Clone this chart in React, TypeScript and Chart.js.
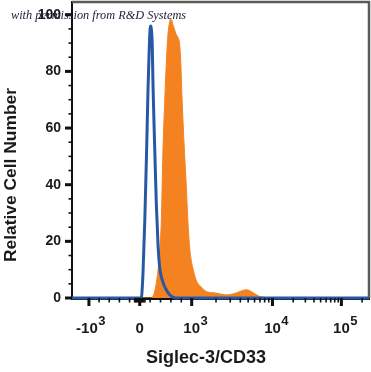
import { useEffect, useRef } from "react";
import { Chart, registerables } from "chart.js";

Chart.register(...registerables);

// Display channel (0-1000, biexponential display) and relative counts
const isotypeChannel = [0, 200, 228, 234, 239, 245, 251, 256, 260, 263, 265, 267, 270, 273, 279, 284, 290, 295, 301, 310, 318, 328, 339, 350, 1000];
const isotypeCount = [0, 0, 0, 0.4, 8.8, 27, 51, 74, 88, 95, 96, 95, 90, 74, 51, 33, 18, 11, 7.4, 4.5, 2.8, 1.2, 0.3, 0, 0];

const cd33Channel = [0, 265, 272, 284, 295, 301, 306, 312, 318, 323, 329, 332, 336, 340, 346, 351, 357, 362, 366, 370, 374, 379, 385, 390, 396, 402, 407, 418, 435, 452, 470, 486, 505, 519, 536, 553, 570, 586, 600, 608, 620, 631, 650, 670, 1000];
const cd33Count = [0, 0, 0.5, 5.3, 16, 28, 51, 69, 84, 93, 97.5, 98.5, 98, 96.5, 94.5, 93, 92, 90, 84, 72, 62, 51, 39, 27.5, 18, 13, 10.5, 6.3, 3.9, 2.3, 1.9, 1.7, 1.3, 1.1, 1.3, 1.8, 2.5, 2.9, 2.5, 2.0, 1.2, 0.6, 0.2, 0, 0];

const xMajorValues = [-1000, 0, 1000, 10000, 100000];
const xMajorBase = ["-10", "0", "10", "10", "10"];
const xMajorExp = ["3", "", "3", "4", "5"];
const xMinorValues = [
  -800, -600, -400, -200, -100, -80, -60, -40, -20, 20, 40, 60, 80, 100, 200, 400, 600, 800,
  2000, 3000, 4000, 5000, 6000, 7000, 8000, 9000,
  20000, 30000, 40000, 50000, 60000, 70000, 80000, 90000,
  200000, 300000,
];
const yLabelTicks = [0, 20, 40, 60, 80, 100];
const yMinorTicks = [5, 10, 15, 25, 30, 35, 45, 50, 55, 65, 70, 75, 85, 90, 95];

const xTitle = "Siglec-3/CD33";
const yTitle = "Relative Cell Number";
const note = "with permission from R&D Systems";

// biexponential display anchors (channel units)
const NEG_CH = 57, ZERO_CH = 228, E3_CH = 403, E4_CH = 675, E5_CH = 907;
function channelOf(v: number): number {
  if (v >= 10000) return E4_CH + (Math.log10(v) - 4) * (E5_CH - E4_CH);
  if (v >= 1000) return E3_CH + (Math.log10(v) - 3) * (E4_CH - E3_CH);
  if (v >= 0) return ZERO_CH + (v / 1000) * (E3_CH - ZERO_CH);
  return ZERO_CH + (v / 1000) * (ZERO_CH - NEG_CH);
}

const FONT = "'Liberation Sans', Arial, sans-serif";

const decorPlugin = {
  id: "decor",
  afterDraw(chart: any) {
    const ctx = chart.ctx as CanvasRenderingContext2D;
    const { left, right, top, bottom } = chart.chartArea;
    const xs = chart.scales.x;
    const ys = chart.scales.y;
    ctx.save();
    // top/right frame
    ctx.strokeStyle = "#5a5a5a";
    ctx.lineWidth = 2.5;
    ctx.beginPath();
    ctx.moveTo(left, top);
    ctx.lineTo(right, top);
    ctx.lineTo(right, bottom);
    ctx.stroke();

    ctx.fillStyle = "#111";
    // x ticks
    xMajorValues.forEach((v) => {
      const px = xs.getPixelForValue(channelOf(v));
      ctx.fillRect(px - 1.5, bottom, 3, 8);
    });
    xMinorValues.forEach((v) => {
      const ch = channelOf(v);
      if (ch > xs.max) return;
      const px = xs.getPixelForValue(ch);
      ctx.fillRect(px - 0.8, bottom, 1.6, 4.5);
    });
    // y ticks
    yLabelTicks.forEach((v) => {
      const py = ys.getPixelForValue(v);
      ctx.fillRect(left - 7, py - 1.5, 7, 3);
    });
    yMinorTicks.forEach((v) => {
      const py = ys.getPixelForValue(v);
      ctx.fillRect(left - 3.5, py - 0.8, 3.5, 1.6);
    });

    // x tick labels with superscripts
    ctx.fillStyle = "#1a1a1a";
    ctx.textBaseline = "alphabetic";
    xMajorValues.forEach((v, i) => {
      const px = xs.getPixelForValue(channelOf(v));
      ctx.font = `bold 15px ${FONT}`;
      const base = xMajorBase[i];
      const w = ctx.measureText(base).width;
      const bx = px - w / 2 - (base.startsWith("-") ? 2 : 0);
      ctx.textAlign = "left";
      ctx.fillText(base, bx, 333);
      if (xMajorExp[i]) {
        ctx.font = `bold 13px ${FONT}`;
        ctx.fillText(xMajorExp[i], bx + w + 0.5, 325);
      }
    });

    // axis titles
    ctx.textAlign = "center";
    ctx.textBaseline = "middle";
    ctx.font = `bold 18px ${FONT}`;
    ctx.fillText(xTitle, 206, 358);
    ctx.save();
    ctx.translate(11, 175);
    ctx.rotate(-Math.PI / 2);
    ctx.font = `bold 17.4px ${FONT}`;
    ctx.fillText(yTitle, 0, 0);
    ctx.restore();

    // permission note
    ctx.font = "italic 12.3px 'Liberation Serif', 'DejaVu Serif', serif";
    ctx.fillStyle = "#1c1c3a";
    ctx.textAlign = "left";
    ctx.textBaseline = "alphabetic";
    ctx.fillText(note, 11, 19);
    ctx.restore();
  },
};

export default function App() {
  const ref = useRef<HTMLCanvasElement | null>(null);
  useEffect(() => {
    document.body.style.margin = "0";
    const canvas = ref.current;
    if (!canvas) return;
    const chart = new Chart(canvas, {
      type: "line",
      data: {
        datasets: [
          {
            label: "Isotype control",
            data: isotypeChannel.map((x, i) => ({ x, y: isotypeCount[i] })),
            borderColor: "#2858a4",
            borderWidth: 3,
            backgroundColor: "transparent",
            fill: false,
            pointRadius: 0,
            tension: 0.35,
            cubicInterpolationMode: "monotone",
            clip: 4,
            order: 0,
          },
          {
            label: "Siglec-3/CD33",
            data: cd33Channel.map((x, i) => ({ x, y: cd33Count[i] })),
            borderColor: "#f58220",
            borderWidth: 1,
            backgroundColor: "#f58220",
            fill: "origin",
            pointRadius: 0,
            tension: 0.35,
            cubicInterpolationMode: "monotone",
            order: 1,
          },
        ],
      },
      options: {
        animation: false,
        responsive: false,
        devicePixelRatio: 1,
        layout: { padding: { top: 2, right: 2, left: 0, bottom: 0 } },
        plugins: { legend: { display: false }, tooltip: { enabled: false } },
        scales: {
          x: {
            type: "linear",
            min: 0,
            max: 1000,
            grid: { display: false, drawTicks: false },
            border: { display: true, color: "#111", width: 3 },
            ticks: { display: false },
            afterFit: (s: any) => {
              s.height = 74;
              s.paddingLeft = 0;
              s.paddingRight = 0;
            },
          },
          y: {
            type: "linear",
            min: 0,
            max: 104.5,
            grid: { display: false, drawTicks: false },
            border: { display: true, color: "#111", width: 2 },
            afterBuildTicks: (s: any) => {
              s.ticks = yLabelTicks.map((v) => ({ value: v }));
            },
            ticks: {
              color: "#1a1a1a",
              padding: 11,
              font: { family: FONT, size: 14, weight: "bold" },
            },
            afterFit: (s: any) => {
              s.width = 72;
              s.paddingTop = 0;
              s.paddingBottom = 0;
            },
          },
        },
      },
      plugins: [decorPlugin],
    } as any);
    return () => chart.destroy();
  }, []);
  return (
    <div style={{ width: 371, height: 372 }}>
      <canvas ref={ref} width={371} height={372} style={{ display: "block" }} />
    </div>
  );
}
